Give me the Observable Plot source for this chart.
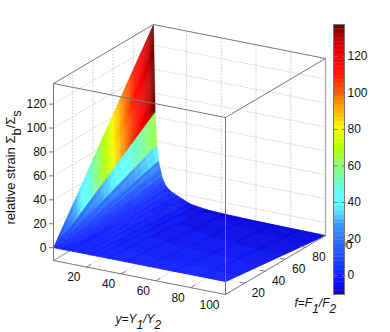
<!DOCTYPE html>
<html><head><meta charset="utf-8">
<style>html,body{margin:0;padding:0;background:#fff}svg{display:block}</style>
<script src="https://cdn.jsdelivr.net/npm/d3@7"></script>
<script src="https://cdn.jsdelivr.net/npm/@observablehq/plot@0.6"></script>
</head><body><div id="chart"></div>
<script>
// ---- values ----
const yNodes = [1,2,3,4,5,6,7,8,9,10,12,15,18,22,26,32,42,55,70,85,100];
const strainAtFMax = [137,64,37,24,17,11,8,5,3,2,0,-2,-4,-6.5,-7.5,-8.7,-9.3,-9.8,-10.2,-10.5,-10.7];
const strainAtFMin = [0,0,0,0,0,0,0,0,0,0,0,0,0,0,0,0,0,0,0,0,0];
const yTicks = [20,40,60,80,100];
const fTicks = [20,40,60,80,100];
const zTicks = [0,20,40,60,80,100,120];
const colorStops = [-10.7,0,20,27,34,38,45,50,60,70,80,90,100,110,120,130,137.2];
const colorValues = ["#0000dc","#1020ff","#2c78ff","#3c94ff","#50d8ff","#5cfcff","#60ffff","#68ffd0","#8cff70","#b4ff00","#f4ff00","#ffb000","#ff6000","#ff1800","#f80000","#c00000","#600000"];
const yTitle = "y=Y_1/Y_2", fTitle = "f=F_1/F_2", zTitle = "relative strain \u03a3_b/\u03a3_s";

// ---- axes box ----
const yMin=1,yMax=100,fMin=1,fMax=100,zMin=-10.7,zMax=137.2,levels=64;
const px=(y,f)=>53+(y-yMin)*172/99+(f-fMin)*100/99;
const py=(y,f,z)=>260+(y-yMin)*34/99-(f-fMin)*59/99-(z-zMin)*177/(zMax-zMin);
const barTop=24.5,barBottom=294.5,barLeft=333.5,barRight=344.5;
const barY=z=>barBottom-(z-zMin)*(barBottom-barTop)/(zMax-zMin);
const quant=v=>{const k=Math.min(levels-1,Math.max(0,Math.floor((v-zMin)/(zMax-zMin)*levels)));return zMin+(k+.5)*(zMax-zMin)/levels;};

// ---- surface facets: flat-shaded strips, each coloured by its low-y edge ----
const facetPts=[];let id=0;
const fSteps=99;
for(let i=0;i<yNodes.length-1;i++){
  const y0=yNodes[i],y1=yNodes[i+1];
  const hi0=strainAtFMax[i],hi1=strainAtFMax[i+1],lo0=strainAtFMin[i],lo1=strainAtFMin[i+1];
  for(let j=fSteps-1;j>=0;j--){
    const a=j/fSteps,b=(j+1)/fSteps;
    const f0=fMin+(fMax-fMin)*a,f1=fMin+(fMax-fMin)*b;
    const z=(h,l,w)=>l+(h-l)*w;
    const c=[[y0,f0,z(hi0,lo0,a)],[y1,f0,z(hi1,lo1,a)],[y1,f1,z(hi1,lo1,b)],[y0,f1,z(hi0,lo0,b)]];
    const v=quant(z(hi0,lo0,b));
    for(const q of [...c,c[0]]) facetPts.push({id,x:px(q[0],q[1]),y:py(q[0],q[1],q[2]),v});
    id++;
  }
}

// ---- guide lines ----
function path3(list,key){return list.map(([y,f,z])=>({key,x:px(y,f),y:py(y,f,z)}));}
const grid=[];
zTicks.forEach((z,i)=>grid.push(...path3([[yMin,fMin,z],[yMin,fMax,z],[yMax,fMax,z]],"z"+i)));
yTicks.slice(0,4).forEach((y,i)=>grid.push(...path3([[y,fMin,zMin],[y,fMax,zMin],[y,fMax,zMax]],"y"+i)));
fTicks.slice(0,4).forEach((f,i)=>grid.push(...path3([[yMax,f,zMin],[yMin,f,zMin],[yMin,f,zMax]],"f"+i)));

const backBox=[
  ...path3([[yMin,fMin,zMin],[yMin,fMax,zMin],[yMax,fMax,zMin]],"b1"),
  ...path3([[yMax,fMax,zMin],[yMax,fMax,zMax]],"b2"),
];
const frontBox=[
  ...path3([[yMin,fMin,zMin],[yMin,fMin,zMax],[yMin,fMax,zMax],[yMax,fMax,zMax],[yMax,fMin,zMax],[yMin,fMin,zMax]],"t"),
  ...path3([[yMin,fMin,zMin],[yMax,fMin,zMin],[yMax,fMax,zMin]],"bot"),
  ...path3([[yMax,fMin,zMin],[yMax,fMin,zMax]],"front"),
];
const tickMarks=[];
yTicks.forEach((y,i)=>tickMarks.push(...path3([[y,fMin,zMin],[y,fMin+4,zMin]],"ty"+i)));
fTicks.forEach((f,i)=>tickMarks.push(...path3([[yMax,f,zMin],[yMax-2.6,f,zMin]],"tf"+i)));
zTicks.forEach(z=>{tickMarks.push({key:"tz"+z,x:px(yMin,fMin),y:py(yMin,fMin,z)},{key:"tz"+z,x:px(yMin,fMin)-4,y:py(yMin,fMin,z)});});

const barLevels=d3.range(levels).map(k=>({
  lo:zMin+k*(zMax-zMin)/levels,hi:zMin+(k+1)*(zMax-zMin)/levels,v:zMin+(k+.5)*(zMax-zMin)/levels}));
const barTickLines=[];
zTicks.forEach(z=>{
  barTickLines.push({key:"l"+z,x:barLeft,y:barY(z)},{key:"l"+z,x:barLeft+3,y:barY(z)});
  barTickLines.push({key:"r"+z,x:barRight,y:barY(z)},{key:"r"+z,x:barRight-3,y:barY(z)});
});

const font={fontFamily:"'Liberation Sans',Arial,sans-serif",fontSize:12,fill:"#111"};
const boxGrey="#777";

const chart=Plot.plot({
  width:390,height:332,margin:0,
  x:{domain:[0,390],range:[0,390],axis:null},
  y:{domain:[0,332],range:[0,332],axis:null},
  color:{type:"linear",domain:colorStops,range:colorValues,interpolate:"rgb"},
  style:{background:"#fff",overflow:"visible"},
  marks:[
    Plot.line(grid,{x:"x",y:"y",z:"key",stroke:"#c4c4c4",strokeWidth:.8,strokeDasharray:"1,2.2"}),
    Plot.line(backBox,{x:"x",y:"y",z:"key",stroke:"#aaa",strokeWidth:1.3}),
    Plot.line(facetPts,{x:"x",y:"y",z:"id",fill:"v",stroke:"v",strokeWidth:.4}),
    Plot.line(frontBox,{x:"x",y:"y",z:"key",stroke:boxGrey,strokeWidth:1}),
    Plot.line(tickMarks,{x:"x",y:"y",z:"key",stroke:boxGrey,strokeWidth:1}),
    Plot.text(zTicks,{x:()=>px(yMin,fMin)-7,y:z=>py(yMin,fMin,z),text:z=>String(z),textAnchor:"end",...font}),
    Plot.text(yTicks,{x:y=>px(y,fMin)-6,y:y=>py(y,fMin,zMin)+10.5,text:y=>String(y),textAnchor:"end",...font}),
    Plot.text(fTicks,{x:f=>px(yMax,f)+7,y:f=>py(yMax,f,zMin)+9.5,text:f=>String(f),textAnchor:"start",...font}),
    Plot.text([yTitle],{x:()=>115,y:()=>319,text:d=>d,textAnchor:"start",...font,fontStyle:"italic"}),
    Plot.text([fTitle],{x:()=>294,y:()=>303,text:d=>d,textAnchor:"start",...font,fontStyle:"italic"}),
    Plot.text([zTitle],{x:()=>10.5,y:()=>224,text:d=>d,textAnchor:"start",rotate:-90,...font,fontSize:13}),
    Plot.rect(barLevels,{x1:()=>barLeft,x2:()=>barRight,y1:d=>barY(d.lo),y2:d=>barY(d.hi),fill:"v",stroke:"v",strokeWidth:.3}),
    Plot.rect([0],{x1:()=>barLeft,x2:()=>barRight,y1:()=>barTop,y2:()=>barBottom,fill:"none",stroke:boxGrey,strokeWidth:1}),
    Plot.line(barTickLines,{x:"x",y:"y",z:"key",stroke:boxGrey,strokeWidth:1}),
    Plot.text(zTicks,{x:()=>347,y:z=>barY(z),text:z=>String(z),textAnchor:"start",...font})
  ]
});
// subscripts as real tspans
chart.querySelectorAll("text").forEach(t=>{
  const s=t.textContent;
  if(!s.includes("_"))return;
  t.textContent="";
  const ns="http://www.w3.org/2000/svg";
  let shift=0;
  s.split(/_(.)/).forEach((part,i)=>{
    if(!part)return;
    const sp=document.createElementNS(ns,"tspan");
    sp.textContent=part;
    const want=i%2?5.5:0;
    sp.setAttribute("dy",want-shift);shift=want;
    t.appendChild(sp);
  });
});
document.getElementById("chart").appendChild(chart);
</script></body></html>
